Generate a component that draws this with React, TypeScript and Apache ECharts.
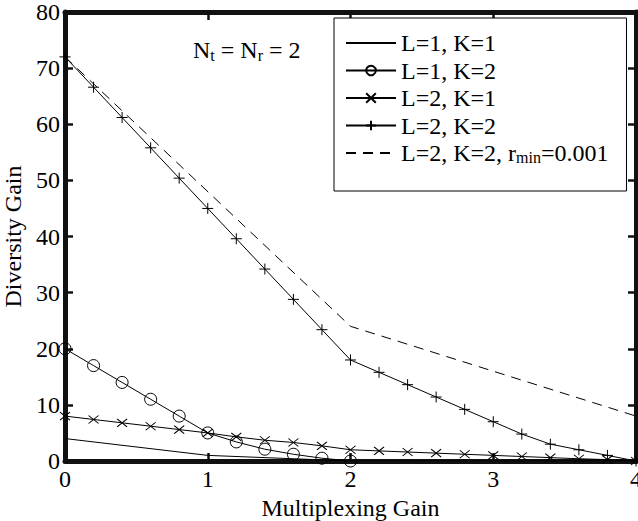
import React, { useEffect, useRef } from "react";
import * as echarts from "echarts";

const xTicks = [0, 1, 2, 3, 4];
const yTicks = [0, 10, 20, 30, 40, 50, 60, 70, 80];

const xFine = [0, 0.2, 0.4, 0.6, 0.8, 1.0, 1.2, 1.4, 1.6, 1.8, 2.0, 2.2, 2.4, 2.6, 2.8, 3.0, 3.2, 3.4, 3.6, 3.8, 4.0];

const l1k1X = [0, 1, 2, 3, 4];
const l1k1Y = [4, 1, 0, 0, 0];

const l1k2X = [0, 0.2, 0.4, 0.6, 0.8, 1.0, 1.2, 1.4, 1.6, 1.8, 2.0];
const l1k2Y = [20, 17, 14, 11, 8, 5, 3.4, 2.1, 1.2, 0.5, 0];

const l2k1Y = [8, 7.4, 6.8, 6.2, 5.6, 5.0, 4.3, 3.7, 3.3, 2.7, 2.0, 1.8, 1.6, 1.4, 1.2, 1.0, 0.8, 0.6, 0.4, 0.25, 0];

const l2k2Y = [72, 66.6, 61.2, 55.8, 50.4, 45, 39.6, 34.2, 28.8, 23.4, 18, 15.8, 13.6, 11.4, 9.2, 7.0, 4.8, 3.0, 2.0, 1.0, 0];

const rminX = [0, 2, 4];
const rminY = [72, 24, 8];

const seriesNames = ["L=1, K=1", "L=1, K=2", "L=2, K=1", "L=2, K=2", "L=2, K=2, r_min=0.001"];

const FONT = "Liberation Serif";
const FS = 24;
const SUB = 16;

const zip = (xs: number[], ys: number[]) => xs.map((x, i) => [x, ys[i]]);

export default function App() {
  const ref = useRef<HTMLDivElement>(null);
  useEffect(() => {
    if (!ref.current) return;
    const chart = echarts.init(ref.current, undefined, { renderer: "svg" });
    const line = { color: "#000", width: 1 };
    const clear = "rgba(0,0,0,0)";
    const axisLine = { show: true, onZero: false, lineStyle: { color: "#111", width: 5 } };
    const axisTick = { show: true, inside: true, length: 8, lineStyle: { color: "#111", width: 2.5 } };
    const xAxisBase = {
      type: "value" as const,
      min: xTicks[0],
      max: xTicks[xTicks.length - 1],
      interval: 1,
      splitLine: { show: false },
      axisLine,
      axisTick,
    };
    const yAxisBase = {
      type: "value" as const,
      min: yTicks[0],
      max: yTicks[yTicks.length - 1],
      interval: 10,
      splitLine: { show: false },
      axisLine,
      axisTick,
    };
    chart.setOption({
      animation: false,
      backgroundColor: "#fff",
      grid: {
        left: 65,
        right: 2,
        top: 12,
        bottom: 60,
        containLabel: false,
        outerBoundsMode: "none",
        show: false,
      },
      xAxis: [
        {
          ...xAxisBase,
          position: "bottom",
          axisLabel: { color: "#000", fontFamily: FONT, fontSize: FS, margin: 6 },
          name: "Multiplexing Gain",
          nameLocation: "middle",
          nameGap: 24,
          nameTextStyle: { color: "#000", fontFamily: FONT, fontSize: FS },
        },
        { ...xAxisBase, position: "top", axisLabel: { show: false } },
      ],
      yAxis: [
        {
          ...yAxisBase,
          position: "left",
          axisLabel: { color: "#000", fontFamily: FONT, fontSize: FS, margin: 5 },
          name: "Diversity Gain",
          nameLocation: "middle",
          nameGap: 38,
          nameTextStyle: { color: "#000", fontFamily: FONT, fontSize: FS },
        },
        { ...yAxisBase, position: "right", axisLabel: { show: false } },
      ],
      legend: {
        orient: "vertical",
        left: 334,
        top: 18,
        padding: [13, 18, 26, 11],
        itemGap: 3.5,
        itemWidth: 50,
        itemHeight: 12,
        backgroundColor: "#fff",
        borderColor: "#000",
        borderWidth: 1,
        borderRadius: 0,
        data: seriesNames,
        formatter: (name: string) => {
          if (name.indexOf("r_min") >= 0) {
            return "{a|L=2, K=2, r}{s|min}{a|=0.001}";
          }
          return "{a|" + name + "}";
        },
        textStyle: {
          color: "#000",
          fontFamily: FONT,
          fontSize: FS,
          rich: {
            a: { fontFamily: FONT, fontSize: FS, color: "#000", lineHeight: 24 },
            s: { fontFamily: FONT, fontSize: SUB, color: "#000", padding: [8, 0, 0, 0] },
          },
        },
      },
      graphic: [
        {
          type: "text",
          left: 193,
          top: 38,
          style: {
            text: "{a|N}{s|t}{a| = N}{s|r}{a| = 2}",
            fill: "#000",
            rich: {
              a: { fontFamily: FONT, fontSize: FS, fill: "#000", lineHeight: 26 },
              s: { fontFamily: FONT, fontSize: SUB, fill: "#000", padding: [10, 0, 0, 0] },
            },
          },
          z: 100,
        },
      ],
      series: [
        {
          name: seriesNames[0],
          type: "line",
          data: zip(l1k1X, l1k1Y),
          symbol: "none",
          lineStyle: line,
          itemStyle: { color: clear, borderWidth: 0 },
        },
        {
          name: seriesNames[1],
          type: "line",
          data: zip(l1k2X, l1k2Y),
          symbol: "circle",
          symbolSize: 12,
          lineStyle: line,
          itemStyle: { color: clear, borderColor: "#000", borderWidth: 1 },
        },
        {
          name: seriesNames[2],
          type: "line",
          data: zip(xFine, l2k1Y),
          symbol: "path://M0,0L10,8M10,0L0,8",
          symbolSize: [10, 8],
          lineStyle: line,
          itemStyle: { color: "none", borderColor: "#000", borderWidth: 1 },
        },
        {
          name: seriesNames[3],
          type: "line",
          data: zip(xFine, l2k2Y),
          symbol: "path://M5,0L5,10M0,5L10,5",
          symbolSize: 11,
          lineStyle: line,
          itemStyle: { color: "none", borderColor: "#000", borderWidth: 1 },
        },
        {
          name: seriesNames[4],
          type: "line",
          data: zip(rminX, rminY),
          symbol: "none",
          lineStyle: { color: "#000", width: 1, type: [10, 7] },
          itemStyle: { color: clear, borderWidth: 0 },
        },
      ],
    });
    return () => chart.dispose();
  }, []);
  return (
    <div
      ref={ref}
      style={{ position: "absolute", left: 0, top: 0, width: 638, height: 521, background: "#fff" }}
    />
  );
}
